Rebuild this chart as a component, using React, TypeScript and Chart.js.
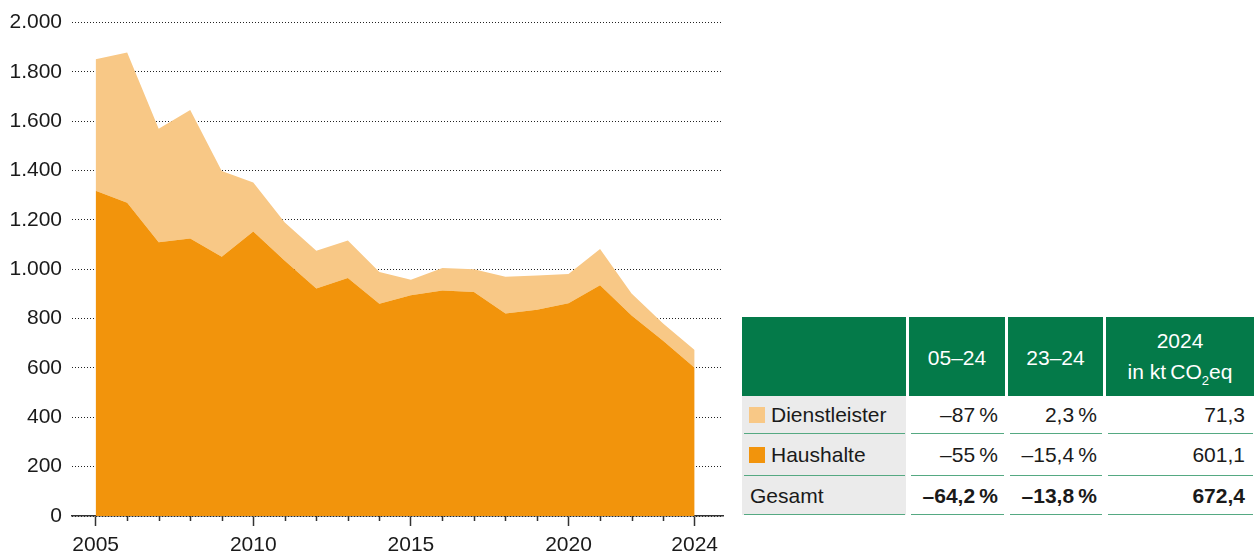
import React, { useEffect, useRef } from 'react';
import { Chart, registerables } from 'chart.js';

Chart.register(...registerables);

const years = [2005, 2006, 2007, 2008, 2009, 2010, 2011, 2012, 2013, 2014, 2015, 2016, 2017, 2018, 2019, 2020, 2021, 2022, 2023, 2024];
const haushalte = [1318, 1270, 1110, 1125, 1051, 1153, 1035, 922, 965, 860, 895, 914, 908, 821, 836, 862, 935, 813, 710.5, 601.1];
const dienstleister = [533, 609, 460, 521, 347, 199, 155, 153, 152, 129, 63, 91, 92, 149, 139, 119, 147, 89, 69.7, 71.3];
const majorYears = [2005, 2010, 2015, 2020, 2024];

const seriesNames = ['Haushalte', 'Dienstleister'];
const seriesColors = ['#f2940c', '#f8c886'];

const headerCols = ['', '05–24', '23–24', '2024'];
const rowLabels = ['Dienstleister', 'Haushalte', 'Gesamt'];
const rowSwatches = ['#f8c886', '#f2940c', ''];
const change0524 = ['–87\u2009%', '–55\u2009%', '–64,2\u2009%'];
const change2324 = ['2,3\u2009%', '–15,4\u2009%', '–13,8\u2009%'];
const value2024 = ['71,3', '601,1', '672,4'];

const FONT = '"Liberation Sans", Arial, sans-serif';
const GREEN = '#047a49';
const LINE_GREEN = '#55a982';
const TEXT = '#1a1a1a';

const fmt = (v: number) => {
  const s = String(Math.round(v));
  return s.replace(/\B(?=(\d{3})+(?!\d))/g, '.');
};

const minorTicks = {
  id: 'minorTicks',
  afterDraw(chart: any) {
    const s = chart.scales.x;
    const ctx = chart.ctx;
    ctx.save();
    ctx.strokeStyle = '#333';
    ctx.lineWidth = 1.5;
    s.ticks.forEach((t: any) => {
      if (!majorYears.includes(t.value)) {
        const x = Math.round(s.getPixelForValue(t.value)) + 0.5;
        ctx.beginPath();
        ctx.moveTo(x, s.top);
        ctx.lineTo(x, s.top + 5);
        ctx.stroke();
      }
    });
    ctx.restore();
  },
};

function AreaChart() {
  const ref = useRef<HTMLCanvasElement>(null);
  useEffect(() => {
    if (!ref.current) return;
    const chart = new Chart(ref.current, {
      type: 'line',
      data: {
        datasets: [
          {
            label: seriesNames[0],
            data: years.map((y, i) => ({ x: y, y: haushalte[i] })),
            backgroundColor: seriesColors[0],
            borderColor: seriesColors[0],
            borderWidth: 0,
            fill: 'origin',
            pointRadius: 0,
          },
          {
            label: seriesNames[1],
            data: years.map((y, i) => ({ x: y, y: dienstleister[i] })),
            backgroundColor: seriesColors[1],
            borderColor: seriesColors[1],
            borderWidth: 0,
            fill: '-1',
            pointRadius: 0,
          },
        ],
      },
      options: {
        animation: false,
        responsive: false,
        layout: { padding: { top: 20, right: 12, left: 0, bottom: 0 } },
        plugins: { legend: { display: false }, tooltip: { enabled: false } },
        scales: {
          x: {
            type: 'linear',
            min: 2004.25,
            max: 2024.9,
            afterFit: (s: any) => {
              s.height = 43;
            },
            ticks: {
              stepSize: 1,
              autoSkip: false,
              includeBounds: false,
              maxRotation: 0,
              padding: 7,
              color: TEXT,
              font: { family: FONT, size: 21 },
              callback: (v: any) => (majorYears.includes(Number(v)) ? String(v) : ''),
            },
            grid: {
              drawOnChartArea: false,
              tickLength: 10,
              tickWidth: 1.5,
              tickColor: (ctx: any) =>
                ctx.tick && majorYears.includes(ctx.tick.value) ? '#333' : 'rgba(0,0,0,0)',
            },
            border: { display: true, color: '#333', width: 1.5 },
          },
          y: {
            stacked: true,
            min: 0,
            max: 2000,
            afterFit: (s: any) => {
              s.width = 72;
            },
            ticks: {
              stepSize: 200,
              padding: 10,
              color: TEXT,
              font: { family: FONT, size: 21 },
              callback: (v: any) => fmt(Number(v)),
            },
            grid: { drawTicks: false, color: '#222', lineWidth: 1 },
            border: { display: false, dash: [1, 2] },
          },
        },
      },
      plugins: [minorTicks],
    } as any);
    return () => chart.destroy();
  }, []);
  return <canvas ref={ref} width={735} height={559} style={{ display: 'block' }} />;
}

function RowLine() {
  return (
    <div
      style={{
        position: 'absolute',
        left: 1.5,
        right: 1.5,
        bottom: 0,
        height: 1.5,
        background: LINE_GREEN,
      }}
    />
  );
}

function Table() {
  const colW = [164, 96, 95, 148];
  const padR = [0, 7, 6, 9];
  const rowH = [38, 42, 39];
  const cols = [change0524, change2324, value2024];
  return (
    <div
      style={{
        position: 'absolute',
        left: 742,
        top: 317,
        width: 512,
        fontFamily: FONT,
        fontSize: 21,
        color: TEXT,
        display: 'grid',
        gridTemplateColumns: colW.map((w) => w + 'px').join(' '),
        columnGap: 3,
      }}
    >
      {headerCols.map((h, i) => (
        <div
          key={'h' + i}
          style={{
            background: GREEN,
            height: 79,
            color: '#fff',
            display: 'flex',
            flexDirection: 'column',
            alignItems: 'center',
            justifyContent: 'center',
            lineHeight: '31px',
            paddingTop: 2,
            boxSizing: 'border-box',
          }}
        >
          <div>{h}</div>
          {i === 3 && (
            <div>
              in kt{'\u2009'}CO<span style={{ fontSize: 13, position: 'relative', top: 6 }}>2</span>eq
            </div>
          )}
        </div>
      ))}
      {rowLabels.map((label, r) => (
        <React.Fragment key={'r' + r}>
          <div
            style={{
              position: 'relative',
              background: '#ebebeb',
              height: rowH[r],
              boxSizing: 'border-box',
              display: 'flex',
              alignItems: 'center',
              paddingLeft: rowSwatches[r] ? 7 : 8,
            }}
          >
            {rowSwatches[r] && (
              <span
                style={{ width: 16, height: 16, background: rowSwatches[r], display: 'inline-block', marginRight: 6 }}
              />
            )}
            <span>{label}</span>
            <RowLine />
          </div>
          {cols.map((c, ci) => (
            <div
              key={'c' + ci}
              style={{
                position: 'relative',
                height: rowH[r],
                boxSizing: 'border-box',
                display: 'flex',
                alignItems: 'center',
                justifyContent: 'flex-end',
                paddingRight: padR[ci + 1],
                fontWeight: r === 2 ? 'bold' : 'normal',
              }}
            >
              {c[r]}
              <RowLine />
            </div>
          ))}
        </React.Fragment>
      ))}
    </div>
  );
}

export default function App() {
  return (
    <div style={{ position: 'absolute', left: 0, top: 0, width: 1254, height: 559, background: '#fff' }}>
      <div style={{ position: 'absolute', left: 0, top: 0 }}>
        <AreaChart />
      </div>
      <Table />
    </div>
  );
}
